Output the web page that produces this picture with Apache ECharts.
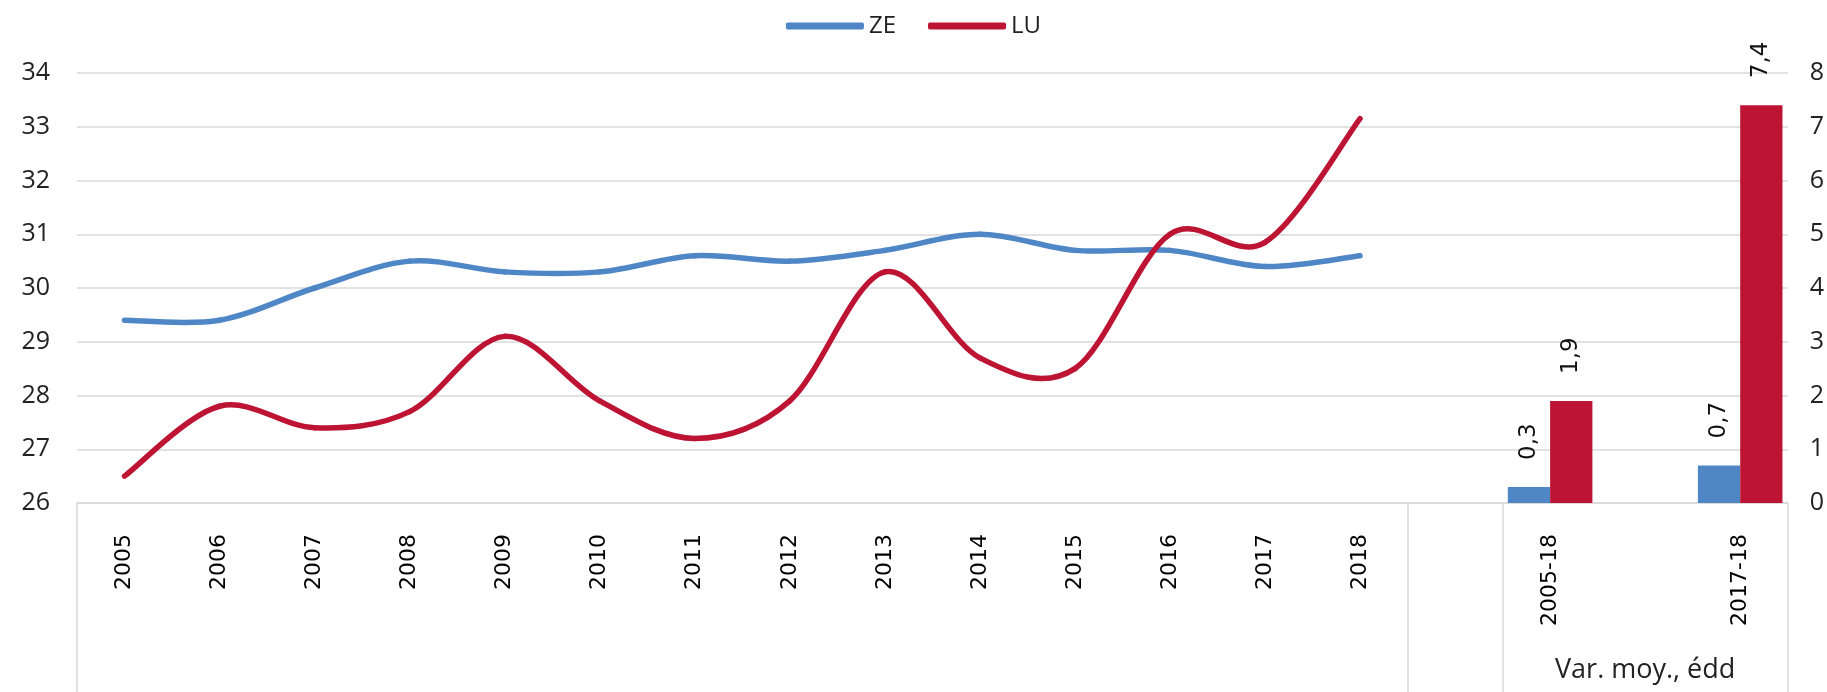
<!DOCTYPE html>
<html>
<head>
<meta charset="utf-8">
<script src="https://cdn.jsdelivr.net/npm/echarts@6.0.0/dist/echarts.min.js"></script>
<style>
	html, body { margin: 0; padding: 0; background: #fff; }
	#chart { width: 1827px; height: 692px; }
</style>
</head>
<body>
<div id="chart"></div>
<script>
//数据
var years = ['2005','2006','2007','2008','2009','2010','2011','2012','2013','2014','2015','2016','2017','2018'];
var ZE = [29.4, 29.4, 30.0, 30.5, 30.3, 30.3, 30.6, 30.5, 30.7, 31.0, 30.7, 30.7, 30.4, 30.6];
var LU = [26.5, 27.8, 27.4, 27.7, 29.1, 27.9, 27.2, 27.9, 30.3, 28.7, 28.5, 31.0, 30.85, 33.15];
//平均变化
var varCats = ['2005-18', '2017-18'];
var varZE = [0.3, 0.7];
var varLU = [1.9, 7.4];
var groupName = 'Var. moy., édd';

var blue = '#4f86c6';
var red = '#be1434';
var grey = '#d9d9d9';
var textColor = '#222';

//类目：年份 + 空格 + 变化
var cats = years.concat(['', varCats[0], ' ', varCats[1]]);
var groupLabels = cats.map(function (c, i) {
	return i === cats.length - 2 ? groupName : '';
});

function barData(vals) {
	return cats.map(function (c) {
		var k = varCats.indexOf(c);
		return k < 0 ? '-' : vals[k];
	});
}

//平滑曲线（类似Excel的样条）
function curveSeries(name, vals, color, z) {
	return {
		name: name,
		type: 'custom',
		xAxisIndex: 0,
		yAxisIndex: 0,
		z: z,
		itemStyle: { color: color },
		encode: { x: 0, y: 1 },
		data: vals.map(function (v, i) { return [i, v]; }),
		renderItem: function (params, api) {
			if (params.dataIndex !== 0) return;
			var pts = vals.map(function (v, i) { return api.coord([i, v]); });
			var segs = [];
			for (var i = 0; i < pts.length - 1; i++) {
				var p0 = pts[i - 1] || pts[i];
				var p1 = pts[i];
				var p2 = pts[i + 1];
				var p3 = pts[i + 2] || pts[i + 1];
				segs.push({
					type: 'bezierCurve',
					shape: {
						x1: p1[0], y1: p1[1],
						x2: p2[0], y2: p2[1],
						cpx1: p1[0] + (p2[0] - p0[0]) / 6,
						cpy1: p1[1] + (p2[1] - p0[1]) / 6,
						cpx2: p2[0] - (p3[0] - p1[0]) / 6,
						cpy2: p2[1] - (p3[1] - p1[1]) / 6
					},
					style: { fill: null, stroke: color, lineWidth: 5.5, lineCap: 'round' }
				});
			}
			return { type: 'group', children: segs };
		}
	};
}

var barLabel = {
	show: true,
	position: 'top',
	rotate: 90,
	align: 'left',
	verticalAlign: 'middle',
	distance: 27,
	fontFamily: 'DejaVu Sans',
	fontSize: 23,
	color: '#111',
	formatter: function (p) {
		return String(p.value).replace('.', ',');
	}
};

var option = {
	animation: false,
	backgroundColor: '#fff',
	legend: {
		top: 9,
		left: 'center',
		itemWidth: 78,
		itemHeight: 7,
		itemGap: 32,
		icon: 'roundRect',
		textStyle: { fontFamily: 'Open Sans', fontSize: 24, color: textColor },
		data: [
			{ name: 'ZE', itemStyle: { color: blue } },
			{ name: 'LU', itemStyle: { color: red } }
		]
	},
	grid: { left: 77, right: 39, top: 73, bottom: 189, containLabel: false },
	xAxis: [{
		type: 'category',
		data: cats,
		boundaryGap: true,
		axisLine: { show: true, lineStyle: { color: grey, width: 1.5 } },
		axisTick: {
			show: true,
			length: 189,
			interval: function (idx) {
				return idx === 0 || idx === years.length || idx === years.length + 1;
			},
			lineStyle: { color: grey, width: 1.5 }
		},
		axisLabel: {
			interval: 0,
			rotate: 90,
			margin: 31,
			fontFamily: 'DejaVu Sans',
			fontSize: 22,
			color: '#000'
		}
	}, {
		type: 'category',
		data: groupLabels,
		position: 'bottom',
		axisLine: { show: false },
		axisTick: { show: false },
		axisLabel: {
			interval: 0,
			margin: 154,
			fontFamily: 'Open Sans',
			fontSize: 27,
			color: textColor
		}
	}],
	yAxis: [{
		type: 'value',
		min: 26,
		max: 34,
		interval: 1,
		axisLine: { show: false },
		axisTick: { show: false },
		splitLine: { show: true, lineStyle: { color: grey, width: 1.5 } },
		axisLabel: { margin: 27, fontFamily: 'Open Sans', fontSize: 25, color: textColor }
	}, {
		type: 'value',
		min: 0,
		max: 8,
		interval: 1,
		position: 'right',
		axisLine: { show: false },
		axisTick: { show: false },
		splitLine: { show: false },
		axisLabel: { margin: 22, fontFamily: 'Open Sans', fontSize: 25, color: textColor }
	}],
	series: [
		curveSeries('ZE', ZE, blue, 3),
		curveSeries('LU', LU, red, 4),
		{
			name: 'ZE',
			type: 'bar',
			yAxisIndex: 1,
			data: barData(varZE),
			barGap: '0%',
			barCategoryGap: '11%',
			itemStyle: { color: blue },
			label: barLabel
		}, {
			name: 'LU',
			type: 'bar',
			yAxisIndex: 1,
			data: barData(varLU),
			barGap: '0%',
			barCategoryGap: '11%',
			itemStyle: { color: red },
			label: barLabel
		}
	]
};

echarts.init(document.getElementById('chart')).setOption(option);
</script>
</body>
</html>
